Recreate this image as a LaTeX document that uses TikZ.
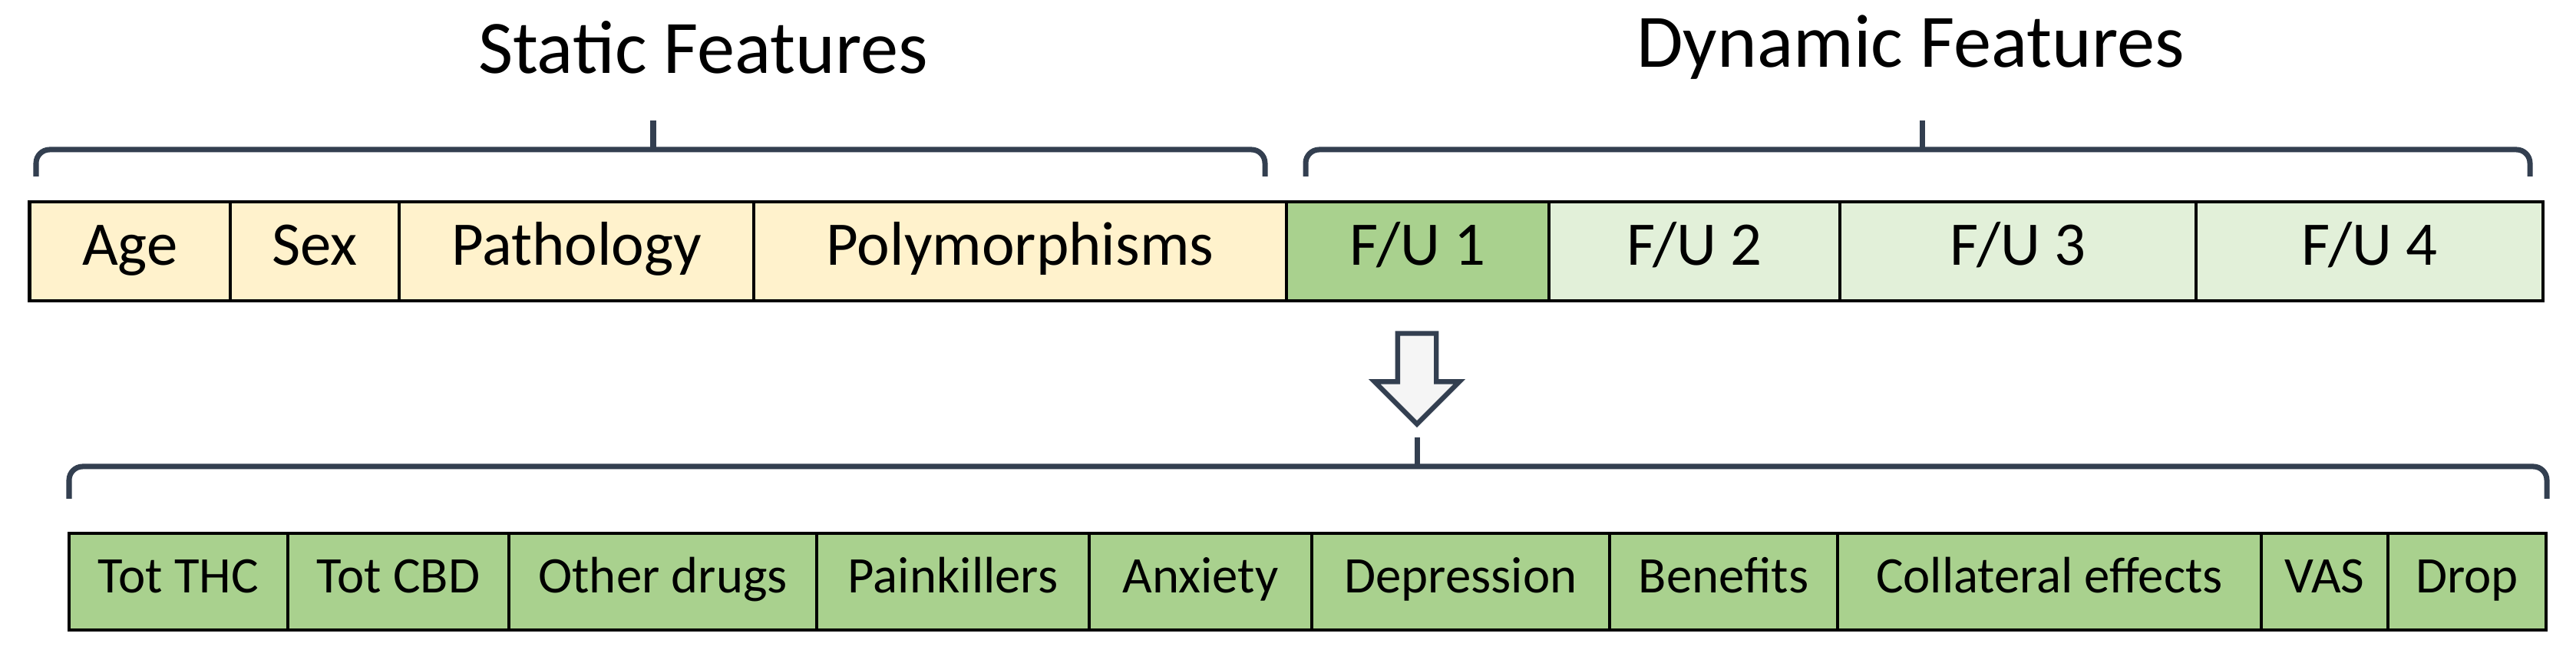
\documentclass[tikz,border=0pt]{standalone}
\usepackage{fontspec}
\setmainfont{Carlito}
\usetikzlibrary{positioning, shapes.arrows, calc}
\definecolor{staticcolor}{HTML}{FFF2CC}
\definecolor{fuone}{HTML}{A9D18E}
\definecolor{fulight}{HTML}{E2F0D9}
\definecolor{bracecolor}{HTML}{333F50}

\begin{document}
\begin{tikzpicture}[
    cell/.style={draw=black, line width=1.2pt, minimum height=1.29cm, inner sep=0pt, text height=0.5cm, text depth=0.14cm, font=\fontsize{23}{26}\selectfont},
    subcell/.style={draw=black, line width=1.2pt, minimum height=1.26cm, inner sep=0pt, fill=fuone, text height=0.42cm, text depth=0.12cm, font=\fontsize{19}{22}\selectfont},
    featbrace/.style={draw=bracecolor, line width=2pt, rounded corners=5pt},
    title/.style={font=\fontsize{28}{30}\selectfont}
]
    \useasboundingbox (0,0) rectangle (33.56,8.64);

    % Ligne des features statiques et dynamiques
    \foreach \nm/\xa/\xb/\txt/\col in {age/0.385/3.00/Age/staticcolor, sex/3.00/5.20/Sex/staticcolor,
        path/5.20/9.82/Pathology/staticcolor, poly/9.82/16.76/Polymorphisms/staticcolor,
        fua/16.76/20.18/F\slash U 1/fuone, fub/20.18/23.97/F\slash U 2/fulight,
        fuc/23.97/28.61/F\slash U 3/fulight, fud/28.61/33.13/F\slash U 4/fulight}
        \node[cell, fill=\col, minimum width={\xb cm-\xa cm}] (\nm) at ({(\xa+\xb)/2},5.365) {\txt};

    % Détail d'un follow-up
    \foreach \nm/\xa/\xb/\txt in {thc/0.90/3.75/Tot THC, cbd/3.75/6.63/Tot CBD, drugs/6.63/10.64/Other drugs,
        pain/10.64/14.19/Painkillers, anx/14.19/17.09/Anxiety, dep/17.09/20.97/Depression,
        ben/20.97/23.94/Benefits, coll/23.94/29.46/Collateral effects, vas/29.46/31.11/VAS, drop/31.11/33.17/Drop}
        \node[subcell, minimum width={\xb cm-\xa cm}] (\nm) at ({(\xa+\xb)/2},1.06) {\txt};

    % Accolades
    \coordinate (sa) at (0.47,6.34);
    \coordinate (sb) at (16.48,6.34);
    \coordinate (stip) at (8.51,7.07);
    \coordinate (da) at (17.01,6.34);
    \coordinate (db) at (32.96,6.34);
    \coordinate (dtip) at (25.04,7.07);
    \coordinate (ba) at (0.90,2.14);
    \coordinate (bb) at (33.18,2.14);
    \coordinate (btip) at (18.46,2.94);
    \foreach \a/\b/\t in {sa/sb/stip, da/db/dtip, ba/bb/btip} {
        \draw[featbrace] (\a) |- ($(\t)+(0,-0.38)$) -| (\b);
        \draw[draw=bracecolor, line width=2pt] ($(\t)+(0,-0.38)$) -- (\t);
    }

    % Titres
    \node[title] (stitle) at (9.16,8.02) {Static Features};
    \node[title] (dtitle) at (24.89,8.02) {Dynamic Features};

    % Flèche
    \node[single arrow, draw=bracecolor, fill=gray!8, line width=1.8pt, shape border rotate=270,
        minimum width=1.05cm, single arrow head extend=0.3cm, single arrow head indent=0pt,
        minimum height=1.18cm, inner sep=0.22cm] (arr) at (18.46,3.83) {};
\end{tikzpicture}
\end{document}
